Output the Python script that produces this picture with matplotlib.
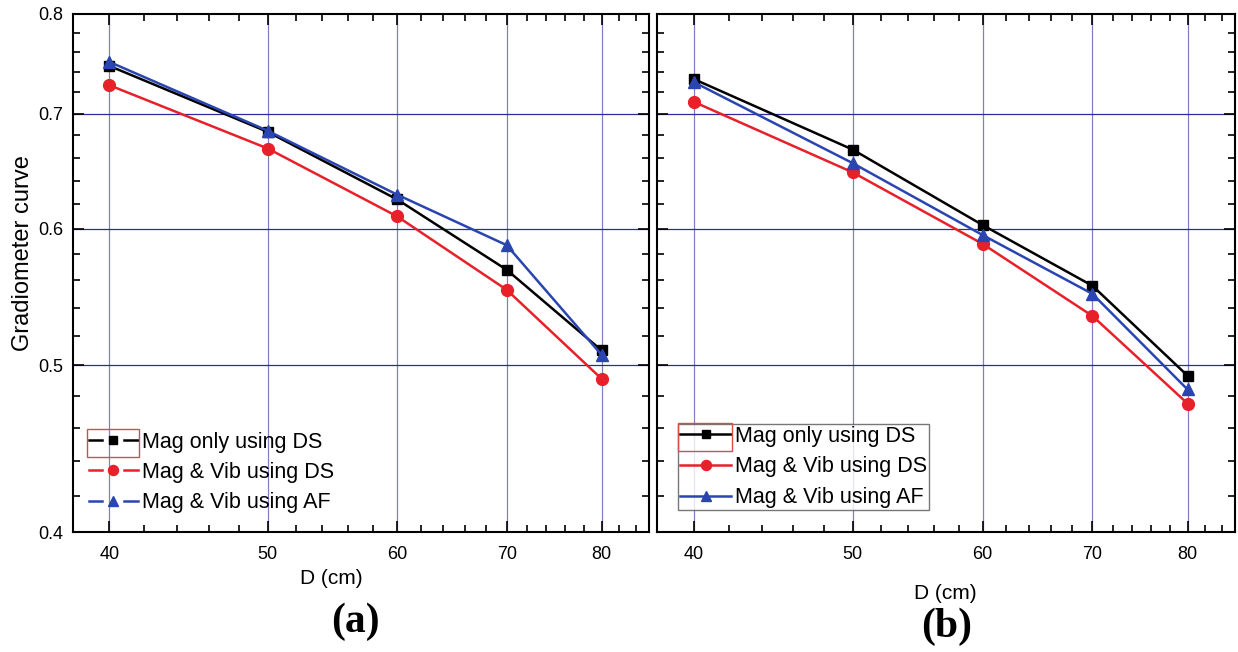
import numpy as np
import matplotlib
matplotlib.use("Agg")
import matplotlib.pyplot as plt
from matplotlib.lines import Line2D
from matplotlib.patches import Rectangle
from matplotlib.legend_handler import HandlerLine2D
from matplotlib.ticker import FixedLocator, NullFormatter

plt.rcParams['font.family'] = ['Liberation Sans', 'DejaVu Sans']

# data
dist = [40, 50, 60, 70, 80]
mag_ds_a = [0.746, 0.683, 0.624, 0.568, 0.510]
magvib_ds_a = [0.727, 0.668, 0.610, 0.553, 0.491]
magvib_af_a = [0.750, 0.684, 0.628, 0.587, 0.507]

mag_ds_b = [0.733, 0.667, 0.603, 0.556, 0.493]
magvib_ds_b = [0.711, 0.647, 0.588, 0.534, 0.475]
magvib_af_b = [0.730, 0.655, 0.595, 0.550, 0.484]

labels = ['Mag only using DS', 'Mag & Vib using DS', 'Mag & Vib using AF']
xticks = [40, 50, 60, 70, 80]
yticks = [0.4, 0.5, 0.6, 0.7, 0.8]

colors = ['black', '#e8202a', '#2a45b0']
markers = ['s', 'o', '^']
msizes = [7, 8.5, 8.5]


class GapHandler(HandlerLine2D):
    # origin-style legend line: line broken around the marker
    def create_artists(self, legend, orig_handle, xdescent, ydescent,
                       width, height, fontsize, trans):
        y = height / 2 - ydescent
        x0 = -xdescent
        x1 = x0 + width
        xm = (x0 + x1) / 2
        gap = 8
        c = orig_handle.get_color()
        lw = orig_handle.get_linewidth()
        l1 = Line2D([x0, xm - gap], [y, y], color=c, lw=lw)
        l2 = Line2D([xm + gap, x1], [y, y], color=c, lw=lw)
        mk = Line2D([xm], [y], ls='none', marker=orig_handle.get_marker(),
                    markersize=orig_handle.get_markersize() * 0.85,
                    color=c, mec=c)
        for a in (l1, l2, mk):
            a.set_transform(trans)
        return [l1, l2, mk]


fig = plt.figure(figsize=(12.38, 6.52), dpi=100)
ax1 = fig.add_axes([0.059, 0.184, 0.465, 0.795])
ax2 = fig.add_axes([0.531, 0.184, 0.4665, 0.795])

series = [
    (ax1, [mag_ds_a, magvib_ds_a, magvib_af_a]),
    (ax2, [mag_ds_b, magvib_ds_b, magvib_af_b]),
]

for ax, ys in series:
    ax.set_xscale('log')
    ax.set_yscale('log')
    for k, y in enumerate(ys):
        ax.plot(dist, y, color=colors[k], marker=markers[k], ms=msizes[k],
                lw=1.8, label=labels[k], zorder=3)
    ax.set_xlim(38, 85.5)
    ax.set_ylim(0.4, 0.8)
    ax.xaxis.set_major_locator(FixedLocator(xticks))
    ax.xaxis.set_minor_locator(FixedLocator([v for v in range(38, 86, 2) if v % 10]))
    ax.yaxis.set_major_locator(FixedLocator(yticks))
    ax.yaxis.set_minor_locator(FixedLocator([round(0.4 + 0.02 * i, 2) for i in range(21) if i % 5]))
    ax.xaxis.set_major_formatter(plt.FixedFormatter([str(v) for v in xticks]))
    ax.xaxis.set_minor_formatter(NullFormatter())
    ax.yaxis.set_minor_formatter(NullFormatter())
    for v in xticks:
        ax.axvline(v, color='#8080c0', lw=0.9, zorder=1)
    for v in yticks[1:-1]:
        ax.axhline(v, color='#2c2ca0', lw=0.9, zorder=1)
    ax.tick_params(which='both', direction='in', top=True, right=True,
                   width=1.2, labelsize=13)
    ax.tick_params(which='major', length=8)
    ax.tick_params(which='minor', length=5)
    ax.tick_params(axis='x', which='major', pad=10)
    ax.tick_params(axis='y', which='major', pad=7)
    for s in ax.spines.values():
        s.set_linewidth(1.5)
    ax.set_xlabel('D (cm)', fontsize=15)

ax1.yaxis.set_major_formatter(plt.FixedFormatter([str(v) for v in yticks]))
ax1.set_ylabel('Gradiometer curve', fontsize=17)
ax1.yaxis.set_label_coords(-0.068, 0.539)
ax1.xaxis.set_label_coords(0.448, -0.072)
ax2.yaxis.set_major_formatter(NullFormatter())
ax2.xaxis.set_label_coords(0.498, -0.100)

h1, _ = ax1.get_legend_handles_labels()
leg1 = ax1.legend(h1, labels, loc='lower left', bbox_to_anchor=(0.012, 0.02),
                  frameon=False, fontsize=15.5, handlelength=2.3,
                  handletextpad=0.2, labelspacing=0.42, borderaxespad=0,
                  handler_map={Line2D: GapHandler()})

h2, _ = ax2.get_legend_handles_labels()
leg2 = ax2.legend(h2, labels, loc='lower left', bbox_to_anchor=(0.035, 0.042),
                  frameon=True, fancybox=False, edgecolor='#555555',
                  fontsize=15.5, handlelength=2.4, handletextpad=0.15,
                  labelspacing=0.45, borderaxespad=0, borderpad=0.1,
                  markerscale=0.85)
leg2.get_frame().set_linewidth(1.0)

fig.text(0.287, 0.031, '(a)', family='Liberation Serif', weight='bold',
         fontsize=30, ha='center')
fig.text(0.765, 0.023, '(b)', family='Liberation Serif', weight='bold',
         fontsize=30, ha='center')

# red selection box around the first legend entry (as in the reference)
fig.canvas.draw()
renderer = fig.canvas.get_renderer()
for leg, hl, tp in [(leg1, 2.3, 0.2), (leg2, 2.4, 0.15)]:
    bb = leg.get_texts()[0].get_window_extent(renderer)
    fs = leg._fontsize * fig.dpi / 72
    x0 = bb.x0 - (hl + tp) * fs - 2
    x1 = bb.x0 - tp * fs + 1
    (fx0, fy0), (fx1, fy1) = fig.transFigure.inverted().transform(
        [(x0, bb.y0 - 4), (x1, bb.y1 + 3)])
    fig.add_artist(Rectangle((fx0, fy0), fx1 - fx0, fy1 - fy0,
                             transform=fig.transFigure, fill=False,
                             ec='#d05050', lw=1.0, zorder=10))

fig.savefig('out.png', dpi=100)
